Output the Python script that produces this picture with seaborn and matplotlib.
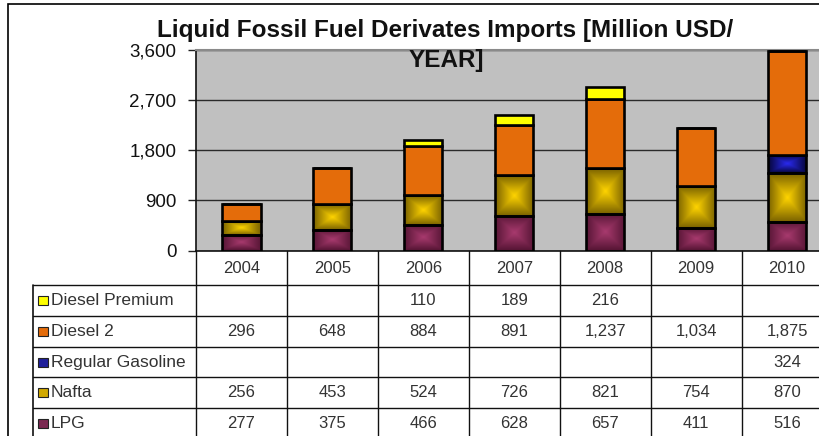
import numpy as np
import pandas as pd
import matplotlib
matplotlib.use("Agg")
import matplotlib.pyplot as plt
import seaborn as sns
from matplotlib.colors import LinearSegmentedColormap
from matplotlib.patches import Rectangle

# ---------------- data ----------------
years = ["2004", "2005", "2006", "2007", "2008", "2009", "2010"]
diesel_premium = [None, None, 110, 189, 216, None, None]
diesel_2 = [296, 648, 884, 891, 1237, 1034, 1875]
regular_gasoline = [None, None, None, None, None, None, 324]
nafta = [256, 453, 524, 726, 821, 754, 870]
lpg = [277, 375, 466, 628, 657, 411, 516]
series_names = ["Diesel Premium", "Diesel 2", "Regular Gasoline", "Nafta", "LPG"]
yticks = [0, 900, 1800, 2700, 3600]
title_1 = "Liquid Fossil Fuel Derivates Imports [Million USD/"
title_2 = "YEAR]"

# ---------------- styles ----------------
W, H = 820, 436
sns.set_style("white")
plt.rcParams["font.family"] = ["Liberation Sans", "DejaVu Sans"]

# stacking order: bottom -> top
stack = [
    ("LPG", lpg, "#7A2850", ("#A83A6E", "#581636")),
    ("Nafta", nafta, "#D0A800", ("#FFD400", "#7A6200")),
    ("Regular Gasoline", regular_gasoline, "#1F1F9A", ("#2A2AF0", "#06063A")),
    ("Diesel 2", diesel_2, "#E46C0A", None),
    ("Diesel Premium", diesel_premium, "#FFFF00", None),
]
legend_colors = {name: c for name, _, c, _ in stack}

fig = plt.figure(figsize=(W / 100, H / 100), dpi=100)
fig.patch.set_facecolor("white")

# main plot area (pixel geometry)
px_left, px_right, px_top, px_bottom = 196, 832.5, 50, 250.5
ax = fig.add_axes([px_left / W, (H - px_bottom) / H,
                   (px_right - px_left) / W, (px_bottom - px_top) / H])
ax.set_facecolor("#C0C0C0")
ax.set_axisbelow(True)


def box_gradient(c_center, c_edge, n=80):
    u = np.linspace(-1, 1, n)
    U, V = np.meshgrid(u, u)
    t = np.maximum(np.abs(U), np.abs(V))
    cmap = LinearSegmentedColormap.from_list("g", [c_center, c_edge])
    return t, cmap


bottom = np.zeros(len(years))
for name, vals, color, grad in stack:
    v = np.array([0 if x is None else x for x in vals], dtype=float)
    df = pd.DataFrame({"year": years, "value": v})
    sns.barplot(data=df, x="year", y="value", order=years, color=color,
                saturation=1, width=0.42, edgecolor="black", linewidth=1.9,
                bottom=bottom.copy(), ax=ax, zorder=3)
    cont = ax.containers[-1]
    if grad is not None:
        t, cmap = box_gradient(*grad)
        for patch, val in zip(cont.patches, v):
            if val <= 0:
                continue
            x0, y0 = patch.get_x(), patch.get_y()
            w, h = patch.get_width(), patch.get_height()
            im = ax.imshow(t, extent=[x0, x0 + w, y0, y0 + h], cmap=cmap,
                           aspect="auto", zorder=2.9, interpolation="bilinear",
                           origin="lower", vmin=0, vmax=1)
            im.set_clip_path(patch)
            patch.set_facecolor("none")
    bottom = bottom + v

ax.set_xlim(-0.5, 6.5)
ax.set_ylim(0, 3600)
ax.set_yticks(yticks)
ax.set_yticklabels([f"{t:,}" for t in yticks], fontsize=13.5, color="#111111")
ax.tick_params(axis="y", direction="out", length=6, width=1, color="#222222", pad=8, left=True)
ax.tick_params(axis="x", length=0, labelbottom=False)
ax.set_xlabel("")
ax.set_ylabel("")
ax.yaxis.grid(True, color="#2a2a2a", linewidth=1)
ax.xaxis.grid(False)
for s in ["left", "bottom"]:
    ax.spines[s].set_color("#111111")
    ax.spines[s].set_linewidth(1.2)
ax.spines["top"].set_color("#8a8a8a")
ax.spines["top"].set_linewidth(1.5)
ax.spines["right"].set_visible(False)

# ---------------- data table ----------------
header_h, row_h = 34.5, 30.8
tab_top = px_bottom
tab_h = header_h + 5 * row_h
tab_left_px = 33
units_per_px = 7 / (px_right - px_left)
tab_xmin = -0.5 - (px_left - tab_left_px) * units_per_px
tab = fig.add_axes([tab_left_px / W, (H - tab_top - tab_h) / H,
                    (px_right - tab_left_px) / W, tab_h / H])
tab.set_xlim(tab_xmin, 6.5)
tab.set_ylim(tab_h, 0)
tab.axis("off")

lc = "#111111"
for k in range(8):
    tab.plot([k - 0.5, k - 0.5], [0, tab_h], color=lc, lw=1, clip_on=False)
tab.plot([tab_xmin + 0.004, tab_xmin + 0.004], [header_h, tab_h], color=lc, lw=1.2, clip_on=False)
for i in range(6):
    y = header_h + i * row_h
    tab.plot([tab_xmin, 6.5], [y, y], color=lc, lw=1, clip_on=False)

txt_kw = dict(fontsize=12, color="#333333", va="center")
for j, yr in enumerate(years):
    tab.text(j, header_h / 2 + 1, yr, ha="center", **txt_kw)

row_data = {
    "Diesel Premium": diesel_premium,
    "Diesel 2": diesel_2,
    "Regular Gasoline": regular_gasoline,
    "Nafta": nafta,
    "LPG": lpg,
}
sq_w = 10 * units_per_px
for i, name in enumerate(series_names):
    yc = header_h + (i + 0.5) * row_h
    tab.add_patch(Rectangle((tab_xmin + 5 * units_per_px, yc - 4.5), sq_w, 9,
                            facecolor=legend_colors[name], edgecolor="#222222", lw=0.8))
    tab.text(tab_xmin + 18 * units_per_px, yc, name, ha="left",
             fontsize=12.5, color="#333333", va="center")
    for j, val in enumerate(row_data[name]):
        if val is not None:
            tab.text(j, yc, f"{val:,}", ha="center", **txt_kw)

# ---------------- title ----------------
fig.text(445 / W, 1 - 31 / H, title_1, ha="center", va="center",
         fontsize=17.5, fontweight="bold", color="#111111")
fig.text(446 / W, 1 - 60 / H, title_2, ha="center", va="center",
         fontsize=17.5, fontweight="bold", color="#111111")

# outer frame
fig.patches.append(Rectangle((8 / W, -0.1), 2, 1 - 4 / H + 0.1, transform=fig.transFigure,
                             fill=False, edgecolor="black", lw=1.2))

fig.savefig("out.png", dpi=100)
